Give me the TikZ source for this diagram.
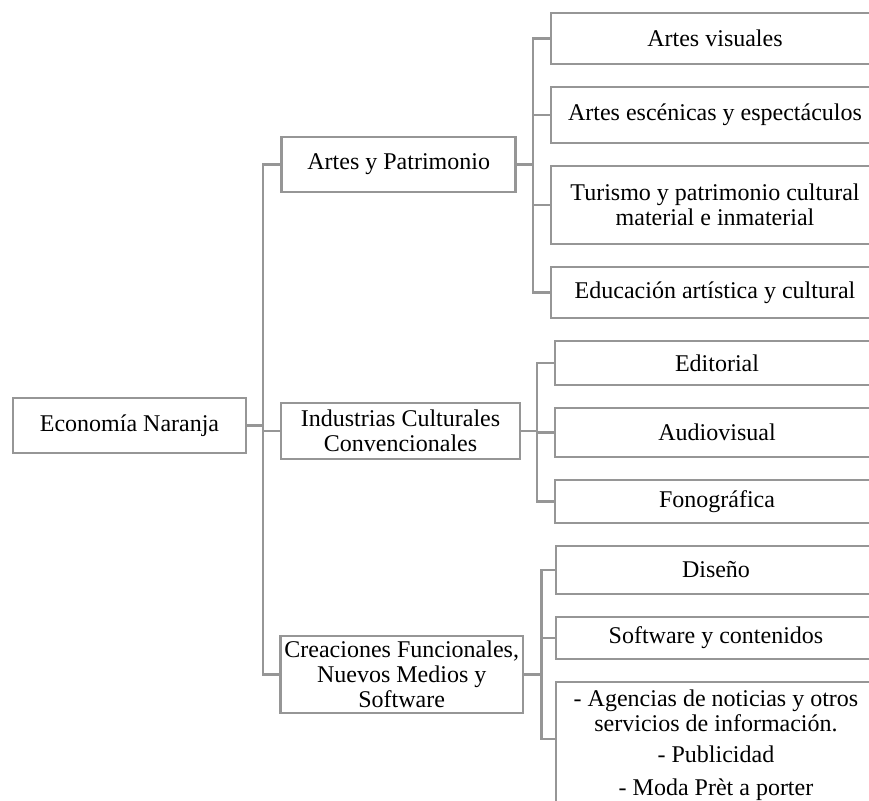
\documentclass[tikz,border=0pt]{standalone}
\usepackage{fontspec}
\setmainfont{Liberation Serif}
\usetikzlibrary{positioning,calc}
\definecolor{boxgray}{RGB}{150,150,150}

\begin{document}
\begin{tikzpicture}[
    x=0.5pt, y=-0.5pt,
    node distance=11.5pt,
    line width=1.4pt,
    every node/.style={font=\fontsize{12}{12.5}\selectfont},
    box/.style={
        rectangle,
        draw=boxgray,
        fill=white,
        align=center,
        inner sep=2pt,
        outer sep=0pt
    },
    sub/.style={box, minimum width=164pt},
    link/.style={draw=boxgray}
]
\useasboundingbox (0,0) rectangle (869,801);

% main topic and its three groups
\node[box, minimum width=116.5pt, minimum height=27.5pt] (naranja) at (129.5,425.5) {Economía Naranja};
\node[box, minimum width=117pt, minimum height=27.5pt] (artes) at (398.7,164.5) {Artes y Patrimonio};
\node[box, minimum width=119.5pt, minimum height=28pt] (industrias) at (400.5,431) {Industrias Culturales\\ Convencionales};
\node[box, minimum width=120pt, minimum height=38.5pt] (creaciones) at (401.7,674.5) {Creaciones Funcionales,\\ Nuevos Medios y\\ Software};

% right column
\node[sub, minimum height=25.5pt] (visuales) at (715,38.5) {Artes visuales};
\node[sub, minimum height=28pt, below=of visuales] (escenicas) {Artes escénicas y espectáculos};
\node[sub, minimum height=39pt, below=of escenicas] (turismo) {Turismo y patrimonio cultural\\ material e inmaterial};
\node[sub, minimum height=25.5pt, below=of turismo] (educacion) {Educación artística y cultural};
\node[sub, minimum width=162pt, minimum height=22pt, below=of educacion, xshift=1pt] (editorial) {Editorial};
\node[sub, minimum width=162pt, minimum height=24.5pt, below=of editorial] (audiovisual) {Audiovisual};
\node[sub, minimum width=162pt, minimum height=21.5pt, below=of audiovisual] (fonografica) {Fonográfica};
\node[sub, minimum width=160pt, minimum height=24pt, below=of fonografica, xshift=-0.5pt] (diseno) {Diseño};
\node[sub, minimum width=160pt, minimum height=21pt, below=of diseno] (software) {Software y contenidos};
\node[sub, minimum width=160pt, inner ysep=4pt, below=of software] (agencias) {- Agencias de noticias y otros\\ servicios de información.\\[3pt] - Publicidad\\[4pt] - Moda Prèt a porter};

% bus points
\coordinate (naranjabus) at ($(naranja.east)+(17,0)$);
\coordinate (artesbus) at ($(artes.east)+(17.3,0)$);
\coordinate (industriasbus) at ($(industrias.east)+(17,0)$);
\coordinate (creacionesbus) at ($(creaciones.east)+(18.3,0)$);

\draw[link] (naranja) -- (naranjabus);
\draw[link] (naranjabus) |- (artes);
\draw[link] (naranjabus) |- (industrias);
\draw[link] (naranjabus) |- (creaciones);

\draw[link] (artes) -- (artesbus);
\draw[link] (artesbus) |- (visuales);
\draw[link] (artesbus) |- (escenicas);
\draw[link] (artesbus) |- (turismo);
\draw[link] (artesbus) |- (educacion);

\draw[link] (industrias) -- (industriasbus);
\draw[link] (industriasbus) |- (editorial);
\draw[link] (industriasbus) |- (audiovisual);
\draw[link] (industriasbus) |- (fonografica);

\draw[link] (creaciones) -- (creacionesbus);
\draw[link] (creacionesbus) |- (diseno);
\draw[link] (creacionesbus) |- (software);
\draw[link] (creacionesbus) |- ($(agencias.north west)+(0,57)$);

\end{tikzpicture}
\end{document}
